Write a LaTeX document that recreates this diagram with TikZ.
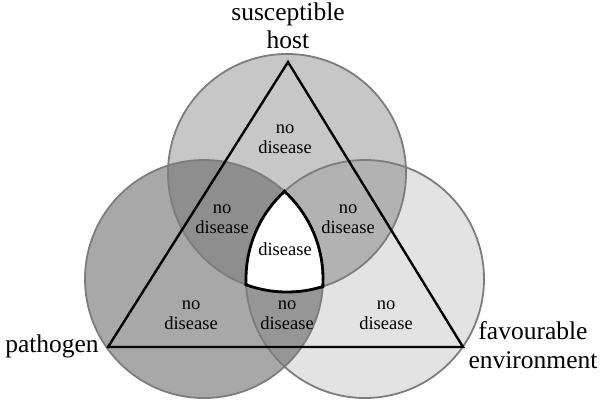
\documentclass[tikz,border=0pt]{standalone}
\usepackage{fontspec}
\setmainfont{Liberation Serif}
\definecolor{cT}{RGB}{199,199,199}
\definecolor{cL}{RGB}{168,168,168}
\definecolor{cR}{RGB}{227,227,227}
\definecolor{cTL}{RGB}{142,142,142}
\definecolor{cTR}{RGB}{178,178,178}
\definecolor{cLR}{RGB}{150,150,150}
\definecolor{cEdge}{RGB}{125,125,125}
\begin{document}
\begin{tikzpicture}[x=1pt,y=-1pt,
  edge/.style={draw=cEdge,line width=1.8pt},
  tri/.style={draw=black,line width=2.4pt,line join=miter},
  core/.style={draw=black,line width=2.8pt},
  small/.style={font=\fontsize{18.5}{20}\selectfont,anchor=base,align=center,inner sep=0pt},
  big/.style={font=\fontsize{25.5}{28.5}\selectfont,anchor=base,align=center,inner sep=0pt}]
\useasboundingbox (0,0) rectangle (600,400);
\fill[white] (0,0) rectangle (600,400);
\def\rad{119pt}
\coordinate (T) at (287,173);
\coordinate (L) at (204,279);
\coordinate (Rc) at (365,279);
\coordinate (A) at (288,62);
\coordinate (B) at (108,347);
\coordinate (C) at (463,347);
% base fills
\fill[cR] (Rc) circle[radius=\rad];
\fill[cL] (L) circle[radius=\rad];
\fill[cT] (T) circle[radius=\rad];
\begin{scope}\clip (T) circle[radius=\rad]; \fill[cTL] (L) circle[radius=\rad];\end{scope}
\begin{scope}\clip (T) circle[radius=\rad]; \fill[cTR] (Rc) circle[radius=\rad];\end{scope}
\begin{scope}\clip (L) circle[radius=\rad]; \fill[cLR] (Rc) circle[radius=\rad];\end{scope}
\begin{scope}\clip (T) circle[radius=\rad]; \clip (L) circle[radius=\rad]; \fill[white] (Rc) circle[radius=\rad];\end{scope}
% circle outlines
\draw[edge] (T) circle[radius=\rad];
\draw[edge] (L) circle[radius=\rad];
\draw[edge] (Rc) circle[radius=\rad];
% outline of the disease region
\begin{scope}\clip (T) circle[radius=120.5pt]; \clip (L) circle[radius=120.5pt]; \draw[core] (Rc) circle[radius=\rad];\end{scope}
\begin{scope}\clip (T) circle[radius=120.5pt]; \clip (Rc) circle[radius=120.5pt]; \draw[core] (L) circle[radius=\rad];\end{scope}
\begin{scope}\clip (L) circle[radius=120.5pt]; \clip (Rc) circle[radius=120.5pt]; \draw[core] (T) circle[radius=\rad];\end{scope}
% triangle
\draw[tri] (A) -- (B) -- (C) -- cycle;
% labels (anchor = baseline of the last line)
\node[small] (n1) at (285,153) {no\\disease};
\node[small] (n2) at (222,233) {no\\disease};
\node[small] (n3) at (348,233) {no\\disease};
\node[small] (n4) at (191,329) {no\\disease};
\node[small] (n5) at (287,329) {no\\disease};
\node[small] (n6) at (386,329) {no\\disease};
\node[small] (d) at (285,255) {disease};
\node[big] (host) at (288,48.5) {susceptible\\host};
\node[big] (path) at (52,352) {pathogen};
\node[big] (env) at (533,368) {favourable\\environment};
\end{tikzpicture}
\end{document}
